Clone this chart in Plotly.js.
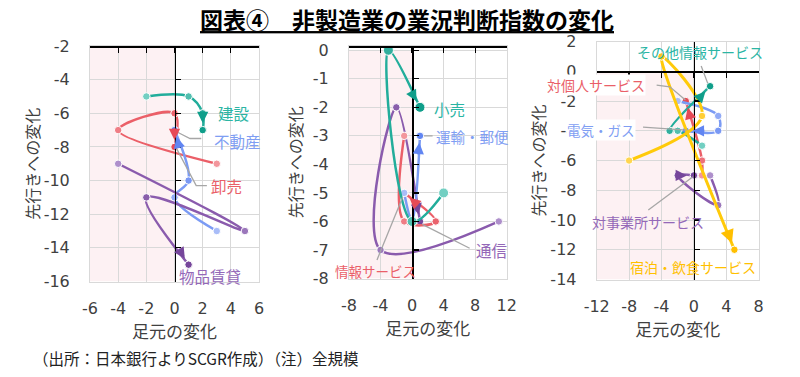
<!DOCTYPE html>
<html><head><meta charset="utf-8">
<script src="https://cdn.plot.ly/plotly-3.0.1.min.js"></script>
<style>html,body{margin:0;padding:0;background:#fff}#chart{width:800px;height:377px}</style>
</head><body><div id="chart"></div>
<script>
// ================= DATA =================
// Panel 1
const kensetsuX = [-2, 1, 2, 2];
const kensetsuY = [-5, -5, -6, -7];
const oroshiX = [3, -4, 0, 0];
const oroshiY = [-9, -7, -6, -8];
const fudosanX = [3, 0, 1, 0];
const fudosanY = [-13, -11, -10, -7];
const buppinX = [-4, 5, -2, 1];
const buppinY = [-9, -13, -11, -15];
// Panel 2
const kouriX = [4, 0, -3, 1];
const kouriY = [-5, -6, 0, -2];
const unyuX = [-1, 0, 1];
const unyuY = [-5, -6, -3];
const tsushinX = [11, -4, -2, 1];
const tsushinY = [-6, -7, -2, -6];
const johoX = [-1, -1, 3, -1];
const johoY = [-3, -6, -6, -5];
// Panel 3
const sonotaX = [1, -2, -3, 2];
const sonotaY = [-5, -4, -4, -1];
const kojinX = [1, 1, -1];
const kojinY = [-7, -6, -2];
const denkiX = [-2, 3, 3, -1];
const denkiY = [-2, -3, -4, -4];
const jigyoX = [2, 3, -2, 0];
const jigyoY = [-7, -9, -7, -7];
const shukuX = [-8, 1, -4, 5];
const shukuY = [-6, -3, 1, -12];

// Tick values
const xTicks1 = [-6, -4, -2, 0, 2, 4, 6];
const yTicks1 = [-16, -14, -12, -10, -8, -6, -4, -2];
const xTicks2 = [-8, -4, 0, 4, 8, 12];
const yTicks2 = [-8, -7, -6, -5, -4, -3, -2, -1, 0];
const xTicks3 = [-12, -8, -4, 0, 4, 8];
const yTicks3 = [-14, -12, -10, -8, -6, -4, -2, 0, 2];

const titleText = '図表④　非製造業の業況判断指数の変化';
const xTitle = '足元の変化';
const yTitle = '先行きへの変化';
const noteText = '（出所：日本銀行よりSCGR作成）（注）全規模';

// ================= STYLE / LAYOUT =================
const W = 800, H = 377;
const FONT_JP = '"Noto Sans CJK JP", "Noto Sans", sans-serif';
const FONT_NUM = '"DejaVu Sans", sans-serif';

const PAL = {
  teal:   {light:'#72cfc2', dark:'#0f9e8a', line:'#22ad9b', label:'#2bb5a4'},
  red:    {light:'#f3969c', dark:'#e64a56', line:'#eb5f68', label:'#ea5f69'},
  blue:   {light:'#a9bdf8', dark:'#6185f2', line:'#7b9bf4', label:'#7f9ef3'},
  purple: {light:'#ae8fcb', dark:'#76469b', line:'#8a5bad', label:'#9468b8'},
  yellow: {light:'#ffd54f', dark:'#ffbf00', line:'#ffca0a', label:'#ffc000'}
};

const panels = [
  {xr:[-6,6],  yr:[-16,-2],  px:[90,259],    py:[46,281.5],  xt:xTicks1, yt:yTicks1, hY:-2},
  {xr:[-8,12], yr:[-8,0.15], px:[349,506.7], py:[46,278.5],  xt:xTicks2, yt:yTicks2, hY:0.15},
  {xr:[-12,8], yr:[-14,2],   px:[596.7,758.7], py:[41.6,279.5], xt:xTicks3, yt:yTicks3, hY:0}
];

const series = [
  {p:0, x:kensetsuX, y:kensetsuY, c:'teal'},
  {p:0, x:oroshiX,   y:oroshiY,   c:'red'},
  {p:0, x:fudosanX,  y:fudosanY,  c:'blue'},
  {p:0, x:buppinX,   y:buppinY,   c:'purple'},
  {p:1, x:tsushinX,  y:tsushinY,  c:'purple'},
  {p:1, x:johoX,     y:johoY,     c:'red'},
  {p:1, x:unyuX,     y:unyuY,     c:'blue'},
  {p:1, x:kouriX,    y:kouriY,    c:'teal', ms:10},
  {p:2, x:jigyoX,    y:jigyoY,    c:'purple'},
  {p:2, x:kojinX,    y:kojinY,    c:'red'},
  {p:2, x:denkiX,    y:denkiY,    c:'blue'},
  {p:2, x:sonotaX,   y:sonotaY,   c:'teal'},
  {p:2, x:shukuX,    y:shukuY,    c:'yellow', lw:3}
];

// label positions (data units of each panel)
const labels = [
  {p:0, t:'建設', x:4.2, y:-6.0, s:15.5, c:'teal'},
  {p:0, t:'不動産', x:4.5, y:-7.62, s:15.5, c:'blue'},
  {p:0, t:'卸売', x:3.67, y:-10.3, s:15.5, c:'red'},
  {p:0, t:'物品賃貸', x:2.54, y:-15.65, s:15.5, c:'purple'},
  {p:1, t:'小売', x:4.75, y:-2.05, s:15.5, c:'teal'},
  {p:1, t:'運輸・郵便', x:7.6, y:-3.02, s:14.5, c:'blue'},
  {p:1, t:'通信', x:10.1, y:-7.0, s:15.5, c:'purple'},
  {p:1, t:'情報サービス', x:-4.68, y:-7.73, s:13.5, c:'red'},
  {p:2, t:'その他情報サービス', x:0.7, y:1.32, s:14, c:'teal'},
  {p:2, t:'対個人サービス', x:-12.06, y:-0.95, s:14, c:'red', bg:true},
  {p:2, t:'電気・ガス', x:-11.5, y:-3.95, s:13.5, c:'blue', bg:true},
  {p:2, t:'対事業所サービス', x:-5.63, y:-10.1, s:14, c:'purple'},
  {p:2, t:'宿泊・飲食サービス', x:-0.12, y:-13.14, s:14, c:'yellow'}
];

const leaders = [
  {p:0, pts:[[0.15,-7.1],[1.1,-7.5],[1.9,-7.5]]},
  {p:0, pts:[[0.15,-8.1],[1.54,-10.3],[2.3,-10.3]]},
  {p:1, pts:[[1.5,-3],[2.6,-3]]},
  {p:1, pts:[[1.3,-6.1],[7.3,-6.94]]},
  {p:1, pts:[[-1.2,-5.15],[-4.45,-7.35]]},
  {p:2, pts:[[1.71,-0.81],[0.9,0.36]]},
  {p:2, pts:[[-4.6,-0.92],[-2.97,-1.04],[-1.05,-1.93]]},
  {p:2, pts:[[-6.28,-3.75],[-0.9,-3.95]]},
  {p:2, pts:[[-5.63,-9.33],[-0.12,-7.09]]}
];

function hex2rgb(h){h=h.replace('#','');return [0,2,4].map(i=>parseInt(h.substr(i,2),16));}
function mix(a,b,t){const A=hex2rgb(a),B=hex2rgb(b);return 'rgb('+A.map((v,i)=>Math.round(v+(B[i]-v)*t)).join(',')+')';}
function ax(i,l){return l+(i?i+1:'');}
function axKey(i,l){return l+'axis'+(i?i+1:'');}
function scale(p){return {sx:(p.px[1]-p.px[0])/(p.xr[1]-p.xr[0]), sy:(p.py[1]-p.py[0])/(p.yr[1]-p.yr[0])};}
function toPaper(p,x,y){const s=scale(p);return [(p.px[0]+(x-p.xr[0])*s.sx)/W, 1-(p.py[0]+(p.yr[1]-y)*s.sy)/H];}

const traces = [];
const annotations = [];
const shapes = [];
const layout = {
  width:W, height:H, autosize:false,
  margin:{l:0,r:0,t:0,b:0},
  paper_bgcolor:'#fff', plot_bgcolor:'rgba(0,0,0,0)',
  showlegend:false,
  font:{family:FONT_JP, color:'#404040'},
  title:{text:'<b><u>'+titleText+'</u></b>', x:407/W, xanchor:'center', xref:'paper',
         y:1-21/H, yanchor:'middle', yref:'container',
         font:{family:FONT_JP, size:23, color:'#000'}}
};

panels.forEach((p,i)=>{
  const xk = axKey(i,'x'), yk = axKey(i,'y');
  const xdom = [p.px[0]/W, p.px[1]/W];
  const ydom = [1-p.py[1]/H, 1-p.py[0]/H];
  const common = {showgrid:true, gridcolor:'#d9d9d9', gridwidth:1, zeroline:false,
    showline:true, mirror:true, linecolor:'#d9d9d9', linewidth:1, ticks:'', fixedrange:true,
    tickfont:{family:FONT_NUM, size:16, color:'#404040'}};
  layout[xk] = Object.assign({}, common, {domain:xdom, range:p.xr, anchor:ax(i,'y'),
    tickmode:'array', tickvals:p.xt, ticktext:p.xt.map(String), ticklabelstandoff:12,
    title:{text:xTitle, font:{family:FONT_JP,size:17,color:'#404040'}, standoff:4}});
  layout[yk] = Object.assign({}, common, {domain:ydom, range:p.yr, anchor:ax(i,'x'),
    tickmode:'array', tickvals:p.yt, ticktext:p.yt.map(String), ticklabelstandoff:16,
    title:{text:yTitle, font:{family:FONT_JP,size:16,color:'#404040'}, standoff:i===1?6:0}});
  const s = scale(p);
  const oi = i+3;
  const hPy = p.py[0] + (p.yr[1]-p.hY)*s.sy;
  const vPx = p.px[0] + (0-p.xr[0])*s.sx;
  layout[axKey(oi,'x')] = {overlaying:ax(i,'x'), anchor:'free', position:1-hPy/H, side:'top',
    domain:xdom, range:p.xr, tickmode:'array', tickvals:p.xt, ticks:'inside', ticklen:5, tickwidth:1.2,
    tickcolor:'#000', showticklabels:false, showgrid:false, zeroline:false, showline:true,
    linecolor:'#000', linewidth:1.5, fixedrange:true};
  layout[axKey(oi,'y')] = {overlaying:ax(i,'y'), anchor:'free', position:vPx/W, side:'left',
    domain:ydom, range:p.yr, tickmode:'array', tickvals:p.yt, ticks:'inside', ticklen:5, tickwidth:1.2,
    tickcolor:'#000', showticklabels:false, showgrid:false, zeroline:false, showline:true,
    linecolor:'#000', linewidth:1.5, fixedrange:true};
  traces.push({type:'scatter', x:[], y:[], xaxis:ax(oi,'x'), yaxis:ax(oi,'y'), showlegend:false, hoverinfo:'skip'});
  shapes.push({type:'rect', xref:ax(i,'x'), yref:ax(i,'y'), x0:p.xr[0], x1:0, y0:p.yr[0], y1:Math.min(0,p.yr[1]),
    fillcolor:'#fdf1f3', line:{width:0}, layer:'below'});
});

// series
series.forEach(sr=>{
  const p = panels[sr.p], pal = PAL[sr.c], n = sr.x.length;
  const mcol = sr.x.map((_,k)=>mix(pal.light, pal.dark, n>1?k/(n-1):1));
  traces.push({type:'scatter', mode:'lines+markers', x:sr.x, y:sr.y,
    xaxis:ax(sr.p,'x'), yaxis:ax(sr.p,'y'), cliponaxis:false, hoverinfo:'skip',
    line:{shape:'spline', smoothing:1, width:sr.lw||2.5, color:pal.line},
    marker:{size:sr.ms||7.5, color:mcol, line:{color:'#fff', width:1}}});
  const s = scale(p);
  const dx = sr.x[n-1]-sr.x[n-2], dy = sr.y[n-1]-sr.y[n-2];
  const len = Math.hypot(dx*s.sx, dy*s.sy);
  const t = 20/len;
  annotations.push({xref:ax(sr.p,'x'), yref:ax(sr.p,'y'), axref:ax(sr.p,'x'), ayref:ax(sr.p,'y'),
    x:sr.x[n-1], y:sr.y[n-1], ax:sr.x[n-1]-dx*t, ay:sr.y[n-1]-dy*t, text:'',
    showarrow:true, arrowhead:2, arrowsize:0.9, arrowwidth:sr.lw||2.5, arrowcolor:pal.dark, standoff:7});
});

leaders.forEach(l=>{
  const path = l.pts.map((q,k)=>(k?'L':'M')+q[0]+','+q[1]).join(' ');
  shapes.push({type:'path', xref:ax(l.p,'x'), yref:ax(l.p,'y'), path:path, line:{color:'#a6a6a6', width:1.3}});
});

labels.forEach(lb=>{
  const pp = toPaper(panels[lb.p], lb.x, lb.y);
  annotations.push({xref:'paper', yref:'paper', x:pp[0], y:pp[1], text:lb.t, showarrow:false,
    xanchor:'center', yanchor:'middle', bgcolor: lb.bg ? '#fff' : 'rgba(0,0,0,0)', borderpad:0,
    font:{family:FONT_JP, size:lb.s, color:PAL[lb.c].label}});
});

annotations.push({xref:'paper', yref:'paper', x:31/W, y:1-357.7/H, xanchor:'left', yanchor:'middle',
  text:noteText, showarrow:false, font:{family:FONT_JP, size:15.5, color:'#222'}});

layout.shapes = shapes;
layout.annotations = annotations;

Plotly.newPlot('chart', traces, layout, {displayModeBar:false, staticPlot:true});
</script>
</body></html>
